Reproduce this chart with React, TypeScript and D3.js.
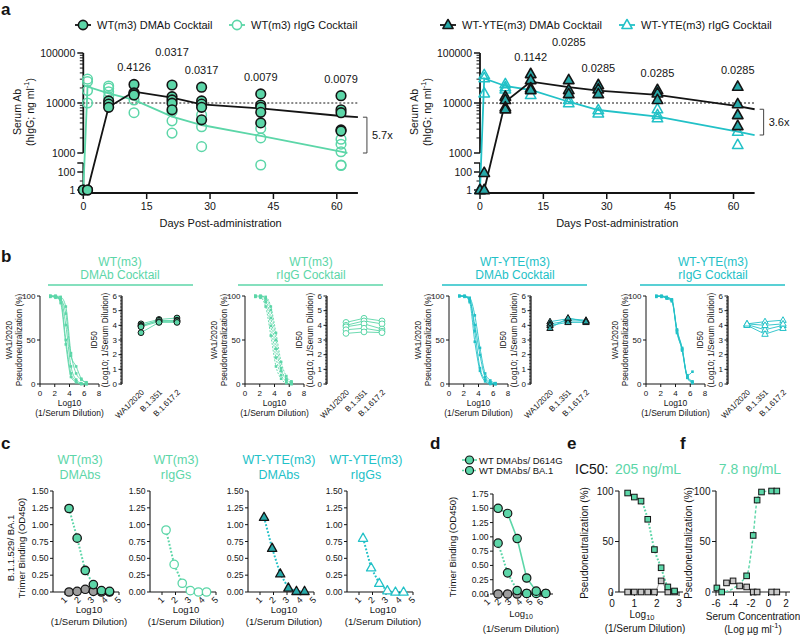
import React from 'react';
import * as d3 from 'd3';

const FONT = "'Liberation Sans', Arial, Helvetica, sans-serif";
const MINT = '#5CD6A8';
const CYAN = '#22C1C7';
const TEAL = '#27A9A9';
const GREY = '#9D9D9D';
const LGREY = '#C8C8C8';
const INK = '#141414';

/* ---------------- panel a data ---------------- */
const aDays = [0, 1, 6, 12, 21, 28, 42, 61];
const aDayTicks = [0, 15, 30, 45, 60];
const aUpperTicks = [1000, 10000, 100000];
const aLowerTicks = [1, 100];

const wtLegend = ['WT(m3) DMAb Cocktail', 'WT(m3) rIgG Cocktail'];
const wtDmabPts = [
  [1, 1],
  [1, 1],
  [11000, 9500, 8200],
  [23500, 16000, 15500, 14500],
  [22900, 13400, 11500, 9900, 7300],
  [20700, 11000, 9500, 8200, 4600],
  [15200, 9100, 8200, 6500, 4000],
  [14000, 7300, 6400, 2900, 2750],
];
const wtIggPts = [
  [1],
  [30000, 26800, 17700, 10000],
  [21900, 19800, 16800, 13400],
  [11500, 6400],
  [6700, 4400, 2500],
  [5750, 3350, 1340],
  [3100, 2000, 600],
  [1880, 1500, 1060, 600, 520],
];
const wtDmabFitDays = [0, 1, 6, 12, 21, 28, 42, 61, 65];
const wtDmabFit = [1, 1, 8300, 16800, 12800, 9400, 7800, 5500, 5200];
const wtIggFitDays = [0, 1, 6, 12, 21, 28, 42, 61, 62.5];
const wtIggFit = [1, 21200, 15600, 11500, 5330, 3630, 2190, 1060, 1000];
const wtPvals = ['', '', '', '0.4126', '0.0317', '0.0317', '0.0079', '0.0079'];
const wtFold = '5.7x';

const yteLegend = ['WT-YTE(m3) DMAb Cocktail', 'WT-YTE(m3) rIgG Cocktail'];
const yteDmabPts = [
  [1],
  [80, 1],
  [13400, 11500, 8200, 7500],
  [38000, 28800, 19700, 18200],
  [28800, 18200, 15100],
  [22900, 18800, 15100],
  [18200, 15600, 11500],
  [21200, 9500, 5750, 3470],
];
const yteIggPts = [
  [1],
  [36300, 31300, 15600],
  [23900, 20700, 18800],
  [14500],
  [11500, 9900],
  [7200, 6200],
  [7500, 5750, 4950],
  [2670, 1450],
];
const yteFitDays = [0, 1, 6, 12, 21, 28, 42, 61, 65];
const yteDmabFit = [1, 1, 10600, 26700, 20700, 17700, 14500, 8700, 7500];
const yteIggFit = [1, 31000, 21900, 18200, 10600, 7240, 5330, 2670, 2290];
const ytePvals = ['', '', '', '0.1142', '0.0285', '0.0285', '0.0285', '0.0285'];
const yteFold = '3.6x';

/* ---------------- panel b data ---------------- */
const bDil = [1.4, 2.1, 2.8, 3.5, 4.2, 4.9, 5.6, 6.3];
const bXTicks = [0, 2, 4, 6, 8];
const bYTicks = [0, 50, 100];
const bIdTicks = [0, 1, 2, 3, 4, 5, 6];
const bVariants = ['WA1/2020', 'B.1.351', 'B.1.617.2'];
const bWtDmab = [
  [100, 100, 99, 88, 35, 12, 5, 2],
  [100, 99, 97, 67, 20, 5, 1, 0],
  [99, 100, 95, 50, 12, 3, 0, 0],
  [100, 98, 96, 80, 32, 20, 6, 1],
  [100, 100, 92, 45, 8, 2, 0, 0],
];
const bWtIgg = [
  [100, 100, 98, 84, 50, 18, 6, 2],
  [100, 99, 93, 66, 30, 10, 3, 0],
  [100, 100, 96, 75, 40, 15, 5, 1],
  [99, 98, 88, 55, 20, 6, 1, 0],
  [100, 100, 99, 88, 58, 25, 9, 3],
];
const bYteDmab = [
  [100, 100, 98, 78, 41, 12, 4, 1],
  [100, 100, 95, 67, 33, 8, 2, 0],
  [100, 99, 97, 60, 18, 5, 1, 0],
  [100, 100, 93, 48, 15, 3, 0, 0],
];
const bYteIgg = [
  [100, 100, 99, 96, 62, 41, 8, 2],
  [100, 100, 98, 95, 58, 39, 10, 14],
  [99, 100, 97, 94, 61, 40, 9, 3],
  [100, 99, 98, 96, 60, 38, 7, 1],
];
const bWtDmabId = [
  [4.1, 4.4, 4.5],
  [4.0, 4.3, 4.35],
  [3.95, 4.35, 4.25],
  [3.9, 4.25, 4.3],
  [3.5, 4.2, 4.2],
];
const bWtIggId = [
  [4.2, 4.48, 4.3],
  [4.0, 4.3, 4.1],
  [3.9, 4.1, 3.75],
  [3.7, 3.8, 3.6],
  [3.45, 3.55, 3.5],
];
const bYteDmabId = [
  [4.25, 4.45, 4.35],
  [4.1, 4.3, 4.3],
  [4.0, 4.2, 4.2],
  [3.8, 4.5, 4.25],
];
const bYteIggId = [
  [4.1, 4.25, 4.35],
  [4.05, 3.7, 4.0],
  [4.0, 3.4, 3.8],
  [4.1, 4.0, 4.1],
];

/* ---------------- panel c data ---------------- */
const cDil = [1.3, 1.9, 2.5, 3.1, 3.7, 4.3];
const cXTicks = [1, 2, 3, 4, 5];
const cYTicks = [0, 0.25, 0.5, 0.75, 1.0, 1.25, 1.5];
const cWtDmab = [1.24, 0.8, 0.32, 0.11, 0.02, 0.01];
const cWtDmabCtrl = [0.0, 0.01, 0.04, 0.01, 0.0, 0.0];
const cWtIgg = [0.92, 0.41, 0.13, 0.02, 0.0, 0.0];
const cYteDmab = [1.11, 0.65, 0.27, 0.06, 0.01, 0.01];
const cYteIgg = [0.8, 0.36, 0.13, 0.02, 0.0, 0.0];

/* ---------------- panel d data ---------------- */
const dDil = [1.95, 2.85, 3.75, 4.65, 5.55, 6.45];
const dXTicks = [1, 2, 3, 4, 5, 6];
const dYTicks = [0, 0.25, 0.5, 0.75, 1.0, 1.25, 1.5, 1.75];
const dD614G = [1.5, 1.41, 0.97, 0.28, 0.05, 0.01];
const dBA1 = [0.89, 0.37, 0.06, 0.01, 0.01, 0.01];
const dCtrl = [0, 0, 0, 0.01];
const dLegend = ['WT DMAbs/ D614G', 'WT DMAbs/ BA.1'];

/* ---------------- panel e / f data ---------------- */
const eDil = [0.7, 1.0, 1.3, 1.6, 1.9, 2.2, 2.5, 2.8];
const eSerum = [98, 94, 90, 72, 42, 24, 5, 1];
const eCtrl = [0, 0, 0, 0, 0, 11, 0, 0];
const eXTicks = [0, 1, 2, 3];
const pctTicks = [0, 50, 100];
const eIC50 = '205 ng/mL';

const fConc = [-5.9, -5.35, -2.5, -1.75, -1.3, -0.8, 0.35, 0.95];
const fSerum = [4, 0, 16, 56, 91, 99, 100, 100];
const fCtrlConc = [-4.8, -4.05, -3.3, -2.5, -1.75, -1.3, 0.35, 0.95];
const fCtrl = [9, 11, 6, 5, 0, 0, 0, 0];
const fXTicks = [-6, -4, -2, 0, 2];
const fIC50 = '7.8 ng/mL';

/* ---------------- helpers ---------------- */
function Marker({ type, x, y, r, fill, stroke, sw = 1.4 }: any) {
  if (type === 'circle') return <circle cx={x} cy={y} r={r} fill={fill} stroke={stroke} strokeWidth={sw} />;
  if (type === 'square')
    return <rect x={x - r} y={y - r} width={2 * r} height={2 * r} fill={fill} stroke={stroke} strokeWidth={sw} />;
  const d = `M${x},${y - r * 1.2}L${x + r * 1.1},${y + r * 0.75}L${x - r * 1.1},${y + r * 0.75}Z`;
  return <path d={d} fill={fill} stroke={stroke} strokeWidth={sw} strokeLinejoin="round" />;
}

function Txt({ x, y, children, size = 10, anchor = 'middle', fill = INK, weight = 'normal', rot = 0 }: any) {
  if (rot)
    return (
      <text transform={`translate(${x},${y}) rotate(${rot})`} fontSize={size} textAnchor={anchor} dominantBaseline="central" fill={fill} fontWeight={weight}>
        {children}
      </text>
    );
  return (
    <text x={x} y={y} fontSize={size} textAnchor={anchor} dominantBaseline="central" fill={fill} fontWeight={weight}>
      {children}
    </text>
  );
}

/* ---------------- panel a ---------------- */
function PanelA(p: any) {
  const x = d3.scaleLinear().domain([0, 60]).range([p.x0, p.x0 + 253.5]);
  const yU = d3.scaleLog().domain([1000, 100000]).range([153, 53]);
  const yL = d3.scaleLog().domain([1, 1000]).range([190, 163]);
  const y = (v: number) => (v >= 1000 ? yU(v) : yL(v));
  const xEnd = x(65);
  const mk = (days: number[]) =>
    d3
      .line<number>()
      .x((_, i) => x(days[i]))
      .y((v) => y(v));
  const minor: number[] = [];
  [1000, 10000].forEach((dec) => {
    for (let k = 2; k < 10; k++) minor.push(dec * k);
  });
  const labels: any[] = [];
  aDays.forEach((d, i) => {
    if (!p.pvals[i]) return;
    const top = d3.min([...p.pts1[i], ...p.pts2[i]].map(y)) as number;
    let ly = top - 17;
    const prev = labels[labels.length - 1];
    if (prev && x(d) - prev.x < 45 && Math.abs(prev.y - ly) < 13) ly = prev.y - 15;
    labels.push({ x: x(d), y: ly, t: p.pvals[i] });
  });
  const b1 = y(p.f1[p.f1.length - 1]);
  const b2 = y(p.f2[p.f2.length - 1]);
  const bx = xEnd + 9;
  return (
    <g>
      {[0, 1].map((k) => (
        <g key={k}>
          <line x1={p.legX[k] - 8} x2={p.legX[k] + 8} y1={25} y2={25} stroke={k === 0 ? INK : p.col2} strokeWidth={1.8} />
          <Marker type={p.mtype} x={p.legX[k]} y={25} r={4.6} fill={k === 0 ? p.fill1 : 'white'} stroke={k === 0 ? INK : p.col2} sw={1.6} />
          <Txt x={p.legX[k] + 14} y={25} size={11} anchor="start">
            {p.leg[k]}
          </Txt>
        </g>
      ))}
      {/* y axis */}
      <line x1={p.x0} x2={p.x0} y1={53} y2={153} stroke={INK} strokeWidth={1.8} />
      <line x1={p.x0} x2={p.x0} y1={163} y2={193} stroke={INK} strokeWidth={1.8} />
      {minor.map((v) => (
        <line key={v} x1={p.x0 - 3.5} x2={p.x0} y1={yU(v)} y2={yU(v)} stroke={INK} strokeWidth={1} />
      ))}
      {aUpperTicks.map((v) => (
        <g key={v}>
          <line x1={p.x0 - 6} x2={p.x0} y1={yU(v)} y2={yU(v)} stroke={INK} strokeWidth={1.5} />
          <Txt x={p.x0 - 8} y={yU(v)} size={10.5} anchor="end">
            {v}
          </Txt>
        </g>
      ))}
      <line x1={p.x0 - 6} x2={p.x0} y1={163} y2={163} stroke={INK} strokeWidth={1.5} />
      <line x1={p.x0 - 3.5} x2={p.x0} y1={yL(10)} y2={yL(10)} stroke={INK} strokeWidth={1} />
      {aLowerTicks.map((v) => (
        <g key={v}>
          <line x1={p.x0 - 6} x2={p.x0} y1={yL(v)} y2={yL(v)} stroke={INK} strokeWidth={1.5} />
          <Txt x={p.x0 - 8} y={yL(v)} size={10.5} anchor="end">
            {v}
          </Txt>
        </g>
      ))}
      {/* x axis */}
      <line x1={p.x0 - 0.9} x2={xEnd} y1={193} y2={193} stroke={INK} strokeWidth={1.8} />
      {aDayTicks.map((t) => (
        <g key={t}>
          <line x1={x(t)} x2={x(t)} y1={193} y2={199} stroke={INK} strokeWidth={1.5} />
          <Txt x={x(t)} y={206} size={10.5}>
            {t}
          </Txt>
        </g>
      ))}
      <Txt x={x(32.5)} y={223} size={11}>
        Days Post-administration
      </Txt>
      <Txt x={p.x0 - 66} y={112} size={10.5} rot={-90}>
        Serum Ab
      </Txt>
      <Txt x={p.x0 - 53} y={112} size={10.5} rot={-90}>
        (hIgG; ng ml
        <tspan dy={-4} fontSize={7.5}>
          -1
        </tspan>
        <tspan dy={4}>)</tspan>
      </Txt>
      {/* reference line */}
      <line x1={p.x0} x2={xEnd} y1={yU(10000)} y2={yU(10000)} stroke={INK} strokeWidth={1} strokeDasharray="2,2" />
      {/* fits */}
      <path d={mk(p.fd2)(p.f2) as string} fill="none" stroke={p.col2} strokeWidth={1.8} />
      <path d={mk(p.fd1)(p.f1) as string} fill="none" stroke={INK} strokeWidth={1.8} />
      {/* points */}
      {p.pts2.map((vals: number[], i: number) =>
        vals.map((v, j) => <Marker key={`o${i}-${j}`} type={p.mtype} x={x(aDays[i])} y={y(v)} r={4.8} fill="none" stroke={p.col2} sw={1.5} />)
      )}
      {p.pts1.map((vals: number[], i: number) =>
        vals.map((v, j) => <Marker key={`f${i}-${j}`} type={p.mtype} x={x(aDays[i])} y={y(v)} r={4.8} fill={p.fill1} stroke={INK} sw={1.6} />)
      )}
      {labels.map((l, i) => (
        <Txt key={i} x={l.x} y={l.y} size={11}>
          {l.t}
        </Txt>
      ))}
      <path d={`M${bx - 4},${b1}H${bx}V${b2}H${bx - 4}`} fill="none" stroke="#444" strokeWidth={1} />
      <Txt x={bx + 5} y={(b1 + b2) / 2} size={11} anchor="start">
        {p.fold}
      </Txt>
    </g>
  );
}

/* ---------------- panel b ---------------- */
function GroupB(p: any) {
  const xs = d3.scaleLinear().domain([0, 8]).range([p.x0, p.x0 + 59]);
  const ys = d3.scaleLinear().domain([0, 100]).range([384, 296]);
  const ax = p.x0 + 82;
  const yi = d3.scaleLinear().domain([0, 6]).range([384, 296]);
  const cx = (i: number) => ax + 19 + i * 18;
  const ln = d3
    .line<number>()
    .x((_, i) => xs(bDil[i]))
    .y((v) => ys(v))
    .curve(d3.curveMonotoneX);
  const lnId = d3
    .line<number>()
    .x((_, i) => cx(i))
    .y((v) => yi(v));
  const minor = d3.range(0, 60).map((k) => k / 10);
  return (
    <g>
      <Txt x={p.tcx} y={262} size={12} fill={p.color}>
        {p.t1}
      </Txt>
      <Txt x={p.tcx} y={275} size={12} fill={p.color}>
        {p.t2}
      </Txt>
      <line x1={p.ul[0]} x2={p.ul[1]} y1={285} y2={285} stroke={p.color} strokeWidth={1.6} />
      {/* neutralization curve axes */}
      <line x1={p.x0} x2={p.x0} y1={296} y2={384} stroke={INK} strokeWidth={1} />
      {bYTicks.map((t) => (
        <g key={t}>
          <line x1={p.x0 - 3} x2={p.x0} y1={ys(t)} y2={ys(t)} stroke={INK} strokeWidth={1} />
          <Txt x={p.x0 - 4.5} y={ys(t)} size={8} anchor="end">
            {t}
          </Txt>
        </g>
      ))}
      <line x1={p.x0} x2={p.x0 + 59} y1={384} y2={384} stroke={INK} strokeWidth={1} />
      {bXTicks.map((t) => (
        <g key={t}>
          <line x1={xs(t)} x2={xs(t)} y1={384} y2={387} stroke={INK} strokeWidth={1} />
          <Txt x={xs(t)} y={393.5} size={8}>
            {t}
          </Txt>
        </g>
      ))}
      <Txt x={p.x0 - 31} y={340} size={8.3} rot={-90}>
        WA1/2020
      </Txt>
      <Txt x={p.x0 - 21} y={340} size={8.3} rot={-90}>
        Pseudoneutralization (%)
      </Txt>
      <Txt x={p.x0 + 29.5} y={403} size={8.5}>
        Log10
      </Txt>
      <Txt x={p.x0 + 29.5} y={413} size={8.5}>
        (1/Serum Dilution)
      </Txt>
      {p.curves.map((c: number[], i: number) => (
        <path key={i} d={ln(c) as string} fill="none" stroke={p.color} strokeWidth={0.9} strokeDasharray={p.dashed ? '2,1.3' : undefined} />
      ))}
      {p.curves.map((c: number[], i: number) =>
        c.map((v, j) => <rect key={`${i}-${j}`} x={xs(bDil[j]) - 1.3} y={ys(v) - 1.3} width={2.6} height={2.6} fill={p.color} />)
      )}
      {/* ID50 axes */}
      <line x1={ax} x2={ax} y1={296} y2={384} stroke={INK} strokeWidth={1.2} />
      {minor.map((t) => (
        <line key={t} x1={ax - 2} x2={ax} y1={yi(t)} y2={yi(t)} stroke={INK} strokeWidth={0.7} />
      ))}
      {bIdTicks.map((t) => (
        <g key={t}>
          <line x1={ax - 3.5} x2={ax} y1={yi(t)} y2={yi(t)} stroke={INK} strokeWidth={1} />
          <Txt x={ax - 5} y={yi(t)} size={8} anchor="end">
            {t}
          </Txt>
        </g>
      ))}
      <Txt x={ax - 28} y={340} size={8.3} rot={-90}>
        ID50
      </Txt>
      <Txt x={ax - 17} y={340} size={8.3} rot={-90}>
        (Log10; 1/Serum Dilution)
      </Txt>
      {bVariants.map((v, i) => (
        <Txt key={v} x={cx(i) + 2} y={391} size={8} anchor="end" rot={-45}>
          {v}
        </Txt>
      ))}
      {p.id.map((a: number[], i: number) => (
        <path key={i} d={lnId(a) as string} fill="none" stroke={p.color} strokeWidth={0.9} />
      ))}
      {p.id.map((a: number[], i: number) =>
        a.map((v, j) => (
          <Marker
            key={`${i}-${j}`}
            type={p.mtype}
            x={cx(j)}
            y={yi(v)}
            r={2.9}
            fill={p.open ? 'white' : p.fill}
            stroke={p.open ? p.color : INK}
            sw={1}
          />
        ))
      )}
    </g>
  );
}

/* ---------------- panel c ---------------- */
function SubC(p: any) {
  const xs = d3.scaleLinear().domain([1, 5]).range([p.ax + 12, p.ax + 66]);
  const ys = d3.scaleLinear().domain([0, 1.5]).range([592, 491]);
  const ln = d3
    .line<number>()
    .x((_, i) => xs(cDil[i]))
    .y((v) => ys(v));
  return (
    <g>
      <Txt x={p.tcx} y={460} size={12.5} fill={p.color}>
        {p.t1}
      </Txt>
      <Txt x={p.tcx} y={475} size={12.5} fill={p.color}>
        {p.t2}
      </Txt>
      <line x1={p.ax} x2={p.ax} y1={491} y2={592} stroke={INK} strokeWidth={1.1} />
      {cYTicks.map((t) => (
        <g key={t}>
          <line x1={p.ax - 3} x2={p.ax} y1={ys(t)} y2={ys(t)} stroke={INK} strokeWidth={1} />
          <Txt x={p.ax - 4.5} y={ys(t)} size={8.6} anchor="end">
            {t.toFixed(2)}
          </Txt>
        </g>
      ))}
      <line x1={p.ax} x2={p.ax + 66} y1={592} y2={592} stroke={INK} strokeWidth={1.1} />
      {cXTicks.map((t) => (
        <g key={t}>
          <line x1={xs(t)} x2={xs(t)} y1={592} y2={595} stroke={INK} strokeWidth={1} />
          <Txt x={xs(t) - 1} y={600} size={9} rot={-45}>
            {t}
          </Txt>
        </g>
      ))}
      <Txt x={p.ax + 36} y={609} size={9.5}>
        Log10
      </Txt>
      <Txt x={p.ax + 36} y={621} size={9.5}>
        (1/Serum Dilution)
      </Txt>
      <path d={ln(p.vals) as string} fill="none" stroke={p.color} strokeWidth={2} strokeDasharray="1.8,1.8" />
      {p.ctrl &&
        p.ctrl.map((v: number, i: number) => <Marker key={`g${i}`} type="circle" x={xs(cDil[i])} y={ys(v)} r={4.2} fill={GREY} stroke={INK} sw={1.2} />)}
      {p.vals.map((v: number, i: number) => (
        <Marker key={i} type={p.mtype} x={xs(cDil[i])} y={ys(v)} r={4.2} fill={p.open ? 'white' : p.fill} stroke={p.open ? p.color : INK} sw={1.3} />
      ))}
    </g>
  );
}

/* ---------------- panel d ---------------- */
function PanelD() {
  const xs = d3.scaleLinear().domain([1, 6]).range([488, 541]);
  const ys = d3.scaleLinear().domain([0, 1.75]).range([594, 494]);
  const ln = d3
    .line<number>()
    .x((_, i) => xs(dDil[i]))
    .y((v) => ys(v));
  return (
    <g>
      {[0, 1].map((k) => (
        <g key={k}>
          <line x1={462} x2={477} y1={460 + k * 10.5} y2={460 + k * 10.5} stroke={MINT} strokeWidth={1.6} strokeDasharray={k ? '2,2' : undefined} />
          <Marker type="circle" x={469.5} y={460 + k * 10.5} r={4} fill={MINT} stroke={INK} sw={1.2} />
          <Txt x={479} y={460 + k * 10.5} size={9.5} anchor="start">
            {dLegend[k]}
          </Txt>
        </g>
      ))}
      <line x1={493} x2={493} y1={494} y2={594} stroke={INK} strokeWidth={1.1} />
      {dYTicks.map((t) => (
        <g key={t}>
          <line x1={490} x2={493} y1={ys(t)} y2={ys(t)} stroke={INK} strokeWidth={1} />
          <Txt x={488.5} y={ys(t)} size={8.6} anchor="end">
            {t.toFixed(2)}
          </Txt>
        </g>
      ))}
      <line x1={493} x2={553} y1={594} y2={594} stroke={INK} strokeWidth={1.1} />
      {dXTicks.map((t) => (
        <g key={t}>
          <line x1={xs(t)} x2={xs(t)} y1={594} y2={597} stroke={INK} strokeWidth={1} />
          <Txt x={xs(t) - 1} y={602} size={9} rot={-45}>
            {t}
          </Txt>
        </g>
      ))}
      <Txt x={452} y={547} size={9.5} rot={-90}>
        Trimer Binding (OD450)
      </Txt>
      <Txt x={521} y={613} size={9.5}>
        Log
        <tspan dy={3} fontSize={7}>
          10
        </tspan>
      </Txt>
      <Txt x={521} y={628} size={9.5}>
        (1/Serum Dilution)
      </Txt>
      <path d={ln(dD614G) as string} fill="none" stroke={MINT} strokeWidth={1.6} />
      <path d={ln(dBA1) as string} fill="none" stroke={MINT} strokeWidth={2} strokeDasharray="1.8,1.8" />
      {dCtrl.map((v, i) => (
        <Marker key={`g${i}`} type="circle" x={xs(dDil[i])} y={ys(v)} r={4.2} fill={GREY} stroke={INK} sw={1.2} />
      ))}
      {dBA1.map((v, i) => (
        <Marker key={`b${i}`} type="circle" x={xs(dDil[i])} y={ys(v)} r={4.2} fill={MINT} stroke={INK} sw={1.2} />
      ))}
      {dD614G.map((v, i) => (
        <Marker key={`d${i}`} type="circle" x={xs(dDil[i])} y={ys(v)} r={4.2} fill={MINT} stroke={INK} sw={1.2} />
      ))}
    </g>
  );
}

/* ---------------- panel e / f ---------------- */
function PctAxis({ ax, x2 }: any) {
  const ys = d3.scaleLinear().domain([0, 100]).range([592, 491]);
  return (
    <g>
      <line x1={ax} x2={ax} y1={491} y2={592} stroke={INK} strokeWidth={1.1} />
      {pctTicks.map((t) => (
        <g key={t}>
          <line x1={ax - 4} x2={ax} y1={ys(t)} y2={ys(t)} stroke={INK} strokeWidth={1} />
          <Txt x={ax - 5.5} y={ys(t)} size={10} anchor="end">
            {t}
          </Txt>
        </g>
      ))}
      <line x1={ax} x2={x2} y1={592} y2={592} stroke={INK} strokeWidth={1.1} />
    </g>
  );
}

function PanelE() {
  const xs = d3.scaleLinear().domain([0, 3]).range([612, 679]);
  const ys = d3.scaleLinear().domain([0, 100]).range([592, 491]);
  const ln = d3
    .line<number>()
    .x((_, i) => xs(eDil[i]))
    .y((v) => ys(v))
    .curve(d3.curveMonotoneX);
  return (
    <g>
      <Txt x={575} y={469} size={14} anchor="start">
        IC50:
      </Txt>
      <Txt x={615} y={469} size={14} anchor="start" fill={MINT}>
        {eIC50}
      </Txt>
      <PctAxis ax={619} x2={683} />
      {eXTicks.map((t) => (
        <g key={t}>
          <line x1={xs(t)} x2={xs(t)} y1={592} y2={596} stroke={INK} strokeWidth={1} />
          <Txt x={xs(t)} y={603} size={10}>
            {t}
          </Txt>
        </g>
      ))}
      <Txt x={584} y={543} size={10} rot={-90}>
        Pseudoneutralization (%)
      </Txt>
      <Txt x={642} y={614} size={10}>
        Log
        <tspan dy={3} fontSize={7.5}>
          10
        </tspan>
      </Txt>
      <Txt x={645} y={628} size={10}>
        (1/Serum Dilution)
      </Txt>
      <path d={ln(eCtrl) as string} fill="none" stroke={GREY} strokeWidth={1} />
      <path d={ln(eSerum) as string} fill="none" stroke={MINT} strokeWidth={2} strokeDasharray="1.8,1.8" />
      {eCtrl.map((v, i) => (
        <Marker key={`g${i}`} type="square" x={xs(eDil[i])} y={ys(v)} r={2.8} fill={LGREY} stroke={INK} sw={1} />
      ))}
      {eSerum.map((v, i) => (
        <Marker key={`m${i}`} type="square" x={xs(eDil[i])} y={ys(v)} r={2.8} fill={MINT} stroke={INK} sw={1} />
      ))}
    </g>
  );
}

function PanelF() {
  const xs = d3.scaleLinear().domain([-6, 2]).range([716, 786]);
  const ys = d3.scaleLinear().domain([0, 100]).range([592, 491]);
  const lnM = d3
    .line<number>()
    .x((_, i) => xs(fConc[i]))
    .y((v) => ys(v))
    .curve(d3.curveMonotoneX);
  const lnG = d3
    .line<number>()
    .x((_, i) => xs(fCtrlConc[i]))
    .y((v) => ys(v));
  return (
    <g>
      <Txt x={750} y={469} size={14} fill={MINT}>
        {fIC50}
      </Txt>
      <PctAxis ax={716} x2={790} />
      {fXTicks.map((t) => (
        <g key={t}>
          <line x1={xs(t)} x2={xs(t)} y1={592} y2={596} stroke={INK} strokeWidth={1} />
          <Txt x={xs(t)} y={603} size={10}>
            {t}
          </Txt>
        </g>
      ))}
      <Txt x={688} y={543} size={10} rot={-90}>
        Pseudoneutralization (%)
      </Txt>
      <Txt x={753} y={616} size={10}>
        Serum Concentration
      </Txt>
      <Txt x={753} y={629} size={10}>
        (Log µg ml
        <tspan dy={-4} fontSize={7.5}>
          -1
        </tspan>
        <tspan dy={4}>)</tspan>
      </Txt>
      <path d={lnG(fCtrl) as string} fill="none" stroke={GREY} strokeWidth={1} />
      <path d={lnM(fSerum) as string} fill="none" stroke={MINT} strokeWidth={1.4} strokeDasharray="3,2" />
      {fCtrl.map((v, i) => (
        <Marker key={`g${i}`} type="square" x={xs(fCtrlConc[i])} y={ys(v)} r={2.8} fill={LGREY} stroke={INK} sw={1} />
      ))}
      {fSerum.map((v, i) => (
        <Marker key={`m${i}`} type="square" x={xs(fConc[i])} y={ys(v)} r={2.8} fill={MINT} stroke={INK} sw={1} />
      ))}
    </g>
  );
}

export default function App() {
  return (
    <svg
      width={800}
      height={637}
      viewBox="0 0 800 637"
      style={{ position: 'absolute', left: 0, top: 0, display: 'block', background: '#fff' }}
      fontFamily={FONT}
    >
      <rect width={800} height={637} fill="#fff" />
      <Txt x={1} y={9} size={17} weight="bold" anchor="start">a</Txt>
      <Txt x={1} y={256} size={17} weight="bold" anchor="start">b</Txt>
      <Txt x={1} y={443} size={17} weight="bold" anchor="start">c</Txt>
      <Txt x={430} y={443} size={17} weight="bold" anchor="start">d</Txt>
      <Txt x={567} y={443} size={17} weight="bold" anchor="start">e</Txt>
      <Txt x={680} y={443} size={17} weight="bold" anchor="start">f</Txt>

      <PanelA
        x0={83.3}
        pts1={wtDmabPts}
        pts2={wtIggPts}
        fd1={wtDmabFitDays}
        f1={wtDmabFit}
        fd2={wtIggFitDays}
        f2={wtIggFit}
        pvals={wtPvals}
        fold={wtFold}
        mtype="circle"
        fill1={MINT}
        col2={MINT}
        leg={wtLegend}
        legX={[83, 237]}
      />
      <PanelA
        x0={480}
        pts1={yteDmabPts}
        pts2={yteIggPts}
        fd1={yteFitDays}
        f1={yteDmabFit}
        fd2={yteFitDays}
        f2={yteIggFit}
        pvals={ytePvals}
        fold={yteFold}
        mtype="triangle"
        fill1={TEAL}
        col2={CYAN}
        leg={yteLegend}
        legX={[448, 627]}
      />

      <GroupB x0={40} tcx={120} ul={[48, 193]} t1="WT(m3)" t2="DMAb Cocktail" color={MINT} curves={bWtDmab} id={bWtDmabId} mtype="circle" fill={MINT} />
      <GroupB x0={245} tcx={311} ul={[238, 383]} t1="WT(m3)" t2="rIgG Cocktail" color={MINT} curves={bWtIgg} id={bWtIggId} mtype="circle" open dashed />
      <GroupB x0={449} tcx={515} ul={[442, 587]} t1="WT-YTE(m3)" t2="DMAb Cocktail" color={CYAN} curves={bYteDmab} id={bYteDmabId} mtype="triangle" fill={TEAL} />
      <GroupB x0={646} tcx={713} ul={[640, 785]} t1="WT-YTE(m3)" t2="rIgG Cocktail" color={CYAN} curves={bYteIgg} id={bYteIggId} mtype="triangle" open />

      <Txt x={10} y={548} size={9.5} rot={-90}>B.1.1.529/ BA.1</Txt>
      <Txt x={21.5} y={548} size={9.5} rot={-90}>Trimer Binding (OD450)</Txt>
      <SubC ax={53} tcx={80} t1="WT(m3)" t2="DMAbs" color={MINT} vals={cWtDmab} ctrl={cWtDmabCtrl} mtype="circle" fill={MINT} />
      <SubC ax={150} tcx={176} t1="WT(m3)" t2="rIgGs" color={MINT} vals={cWtIgg} mtype="circle" open />
      <SubC ax={248} tcx={279} t1="WT-YTE(m3)" t2="DMAbs" color={CYAN} vals={cYteDmab} mtype="triangle" fill={TEAL} />
      <SubC ax={347} tcx={366} t1="WT-YTE(m3)" t2="rIgGs" color={CYAN} vals={cYteIgg} mtype="triangle" open />

      <PanelD />
      <PanelE />
      <PanelF />
    </svg>
  );
}
